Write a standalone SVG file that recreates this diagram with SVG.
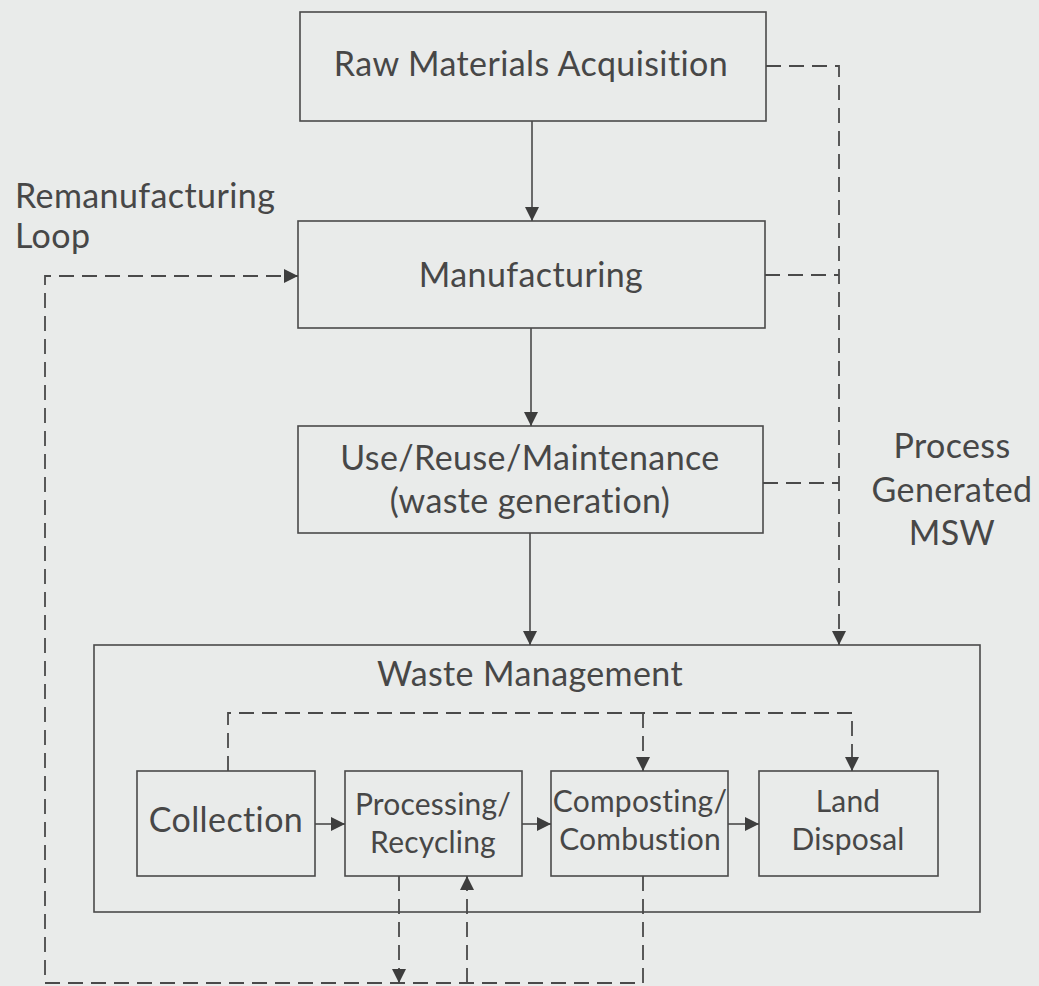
<svg xmlns="http://www.w3.org/2000/svg" width="1039" height="986" viewBox="0 0 1039 986">
<style>
.box{fill:none;stroke:#4a4a4a;stroke-width:1.6}
.ln{fill:none;stroke:#4a4a4a;stroke-width:1.6}
.dl{fill:none;stroke:#4a4a4a;stroke-width:1.8;stroke-dasharray:15 8}
text{font-family:Lato,"Open Sans","Liberation Sans",sans-serif;fill:#474747;font-size:34px;letter-spacing:0.4px}
.m{text-anchor:middle}
.s{font-size:30px;letter-spacing:0.2px}
</style>
<defs>
<marker id="ah" markerUnits="userSpaceOnUse" markerWidth="14" markerHeight="14" viewBox="0 0 14 14" refX="14" refY="7" orient="auto">
<path d="M0,0 L14,7 L0,14 z" fill="#3d3d3d"/>
</marker>
</defs>
<rect width="1039" height="986" fill="#e9ebea"/>
<g id="raw-materials"><rect class="box" x="300" y="12" width="466" height="109"/><text class="m" x="531" y="76">Raw Materials Acquisition</text></g>
<g id="manufacturing"><rect class="box" x="298" y="221" width="467" height="107"/><text class="m" x="531" y="287">Manufacturing</text></g>
<g id="use"><rect class="box" x="298" y="426" width="465" height="107"/><text class="m" x="530" y="470">Use/Reuse/Maintenance</text><text class="m" x="530" y="513">(waste generation)</text></g>
<g id="waste-management"><rect class="box" x="94" y="645" width="886" height="267"/><text class="m" x="530" y="686">Waste Management</text></g>
<g id="collection"><rect class="box" x="137" y="771" width="178" height="105"/><text class="m" x="226" y="832">Collection</text></g>
<g id="processing"><rect class="box" x="345" y="771" width="177" height="105"/><text class="m s" x="433" y="815">Processing/</text><text class="m s" x="433" y="853">Recycling</text></g>
<g id="composting"><rect class="box" x="551" y="771" width="177" height="105"/><text class="m s" x="640" y="812">Composting/</text><text class="m s" x="640" y="850">Combustion</text></g>
<g id="land-disposal"><rect class="box" x="759" y="771" width="179" height="105"/><text class="m s" x="848" y="812">Land</text><text class="m s" x="848" y="850">Disposal</text></g>
<g id="label-reman"><text x="15" y="208">Remanufacturing</text><text x="15" y="248">Loop</text></g>
<g id="label-msw"><text class="m" x="952" y="458">Process</text><text class="m" x="952" y="502">Generated</text><text class="m" x="952" y="545">MSW</text></g>
<g id="connectors">
<path class="ln" d="M532,121 V221" marker-end="url(#ah)"/>
<path class="ln" d="M531,328 V426" marker-end="url(#ah)"/>
<path class="ln" d="M530,533 V645" marker-end="url(#ah)"/>
<path class="ln" d="M315,824 H345" marker-end="url(#ah)"/>
<path class="ln" d="M522,824 H551" marker-end="url(#ah)"/>
<path class="ln" d="M728,824 H759" marker-end="url(#ah)"/>
<path class="dl" d="M766,66 H839 V645" marker-end="url(#ah)"/>
<path class="dl" d="M765,275 H839"/>
<path class="dl" d="M763,483 H839"/>
<path class="dl" d="M643,876 V983 H45 V276 H298" marker-end="url(#ah)"/>
<path class="dl" d="M399,876 V983" marker-end="url(#ah)"/>
<path class="dl" d="M467,983 V876" marker-end="url(#ah)"/>
<path class="dl" d="M228,771 V713 H852 V771" marker-end="url(#ah)"/>
<path class="dl" d="M643,713 V771" marker-end="url(#ah)"/>
</g>
</svg>
